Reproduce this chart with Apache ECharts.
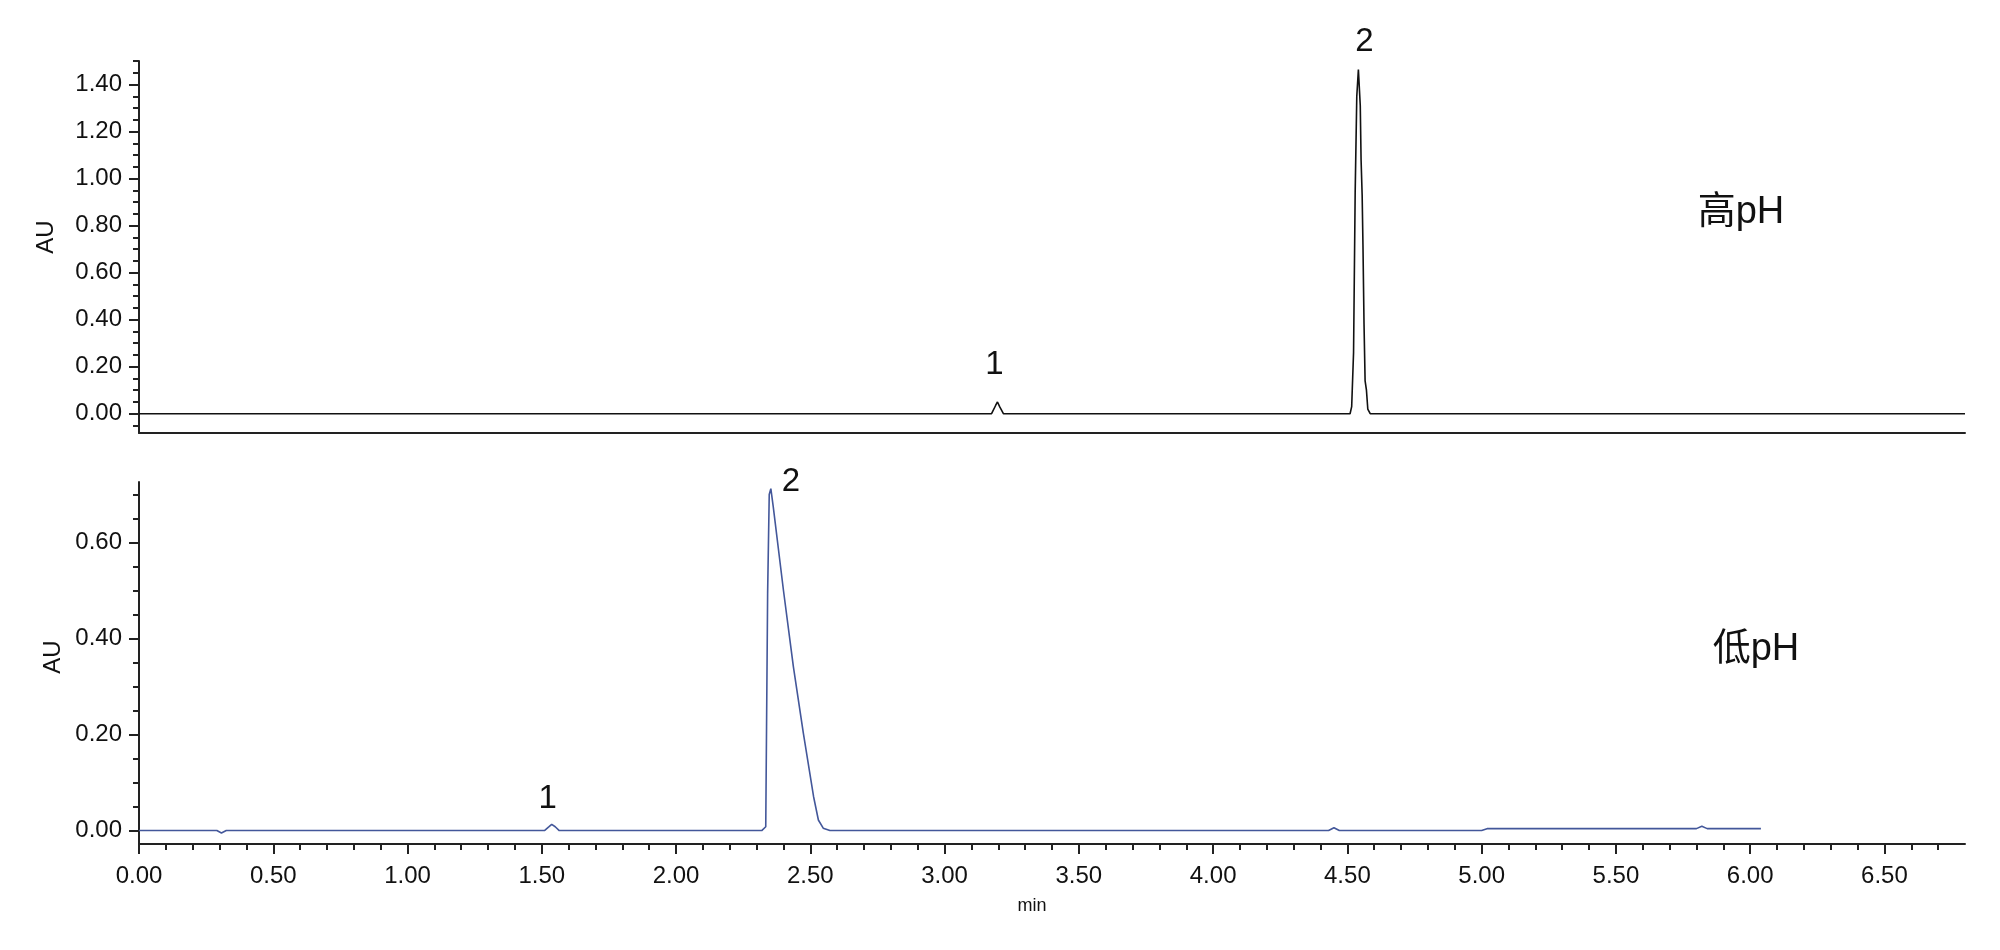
<!DOCTYPE html>
<html><head><meta charset="utf-8">
<script src="https://cdn.jsdelivr.net/npm/echarts@6/dist/echarts.min.js"></script>
<style>html,body{margin:0;padding:0;background:#fff}#c{width:2000px;height:950px}</style>
</head><body><div id="c"></div>
<script>
// ---- data ----
const highTime = [0, 3.175, 3.19, 3.197, 3.205, 3.219, 4.51, 4.516, 4.523, 4.529, 4.535, 4.541, 4.548, 4.551, 4.555, 4.558, 4.562, 4.566, 4.571, 4.576, 4.585, 6.80];
const highAU   = [0, 0,     0.035, 0.05, 0.03,  0,     0,    0.03,  0.26,  0.94,  1.35,  1.464, 1.31,  1.08,  0.93,  0.72,  0.38,  0.14,  0.10,  0.02,  0,     0];
const lowTime = [0, 0.29, 0.307, 0.325, 1.51, 1.527, 1.537, 1.55, 1.565, 2.319, 2.334, 2.337, 2.341, 2.347, 2.353, 2.362, 2.40, 2.437, 2.474, 2.512, 2.53, 2.548, 2.573, 4.43, 4.45, 4.47, 5.0, 5.02, 5.80, 5.82, 5.84, 6.04];
const lowAU   = [0, 0,    -0.005, 0,    0,    0.008, 0.013, 0.008, 0,    0,     0.008, 0.216, 0.494, 0.70,  0.712, 0.674, 0.50, 0.341, 0.203, 0.071, 0.022, 0.005, 0,    0,    0.006, 0,    0,   0.004, 0.004, 0.009, 0.004, 0.004];

const xMajorTicks = [0.0, 0.5, 1.0, 1.5, 2.0, 2.5, 3.0, 3.5, 4.0, 4.5, 5.0, 5.5, 6.0, 6.5];
const xMinorTicks = [0.1, 0.2, 0.3, 0.4, 0.6, 0.7, 0.8, 0.9, 1.1, 1.2, 1.3, 1.4, 1.6, 1.7, 1.8, 1.9, 2.1, 2.2, 2.3, 2.4, 2.6, 2.7, 2.8, 2.9, 3.1, 3.2, 3.3, 3.4, 3.6, 3.7, 3.8, 3.9, 4.1, 4.2, 4.3, 4.4, 4.6, 4.7, 4.8, 4.9, 5.1, 5.2, 5.3, 5.4, 5.6, 5.7, 5.8, 5.9, 6.1, 6.2, 6.3, 6.4, 6.6, 6.7];
const highYMajorTicks = [0.0, 0.2, 0.4, 0.6, 0.8, 1.0, 1.2, 1.4];
const highYMinorTicks = [-0.05, 0.05, 0.10, 0.15, 0.25, 0.30, 0.35, 0.45, 0.50, 0.55, 0.65, 0.70, 0.75, 0.85, 0.90, 0.95, 1.05, 1.10, 1.15, 1.25, 1.30, 1.35, 1.45, 1.50];
const lowYMajorTicks = [0.0, 0.2, 0.4, 0.6];
const lowYMinorTicks = [0.05, 0.10, 0.15, 0.25, 0.30, 0.35, 0.45, 0.50, 0.55, 0.65, 0.70];

const panelLabels = ['高pH', '低pH'];
const yAxisTitle = 'AU';
const xAxisTitle = 'min';
const peakNames = ['1', '2'];
const highPeaks = [[3.197, 0.05], [4.541, 1.464]];
const lowPeaks  = [[1.537, 0.013], [2.353, 0.712]];

// ---- chart ----
const FONT = '"Liberation Sans", Arial, sans-serif';
const CJK = '"Liberation Sans", "Noto Sans CJK SC", sans-serif';
const AX = '#222';
const TXT = '#111';
const zip = (a, b) => a.map((v, i) => [v, b[i]]);

const chart = echarts.init(document.getElementById('c'), null, {renderer: 'canvas'});

function yMajor(grid, min, max, ticks) {
  return {
    gridIndex: grid, type: 'value', position: 'left', min: min, max: max,
    axisLine: {show: true, onZero: false, lineStyle: {color: AX, width: 2}},
    axisTick: {show: true, customValues: ticks, length: 10, lineStyle: {color: AX, width: 2}},
    axisLabel: {show: true, customValues: ticks, formatter: v => v.toFixed(2), fontSize: 24, fontFamily: FONT, color: TXT, margin: 17, padding: [3, 0, 0, 0]},
    splitLine: {show: false}
  };
}
function yMinor(grid, min, max, ticks) {
  return {
    gridIndex: grid, type: 'value', position: 'left', min: min, max: max,
    axisLine: {show: false, onZero: false},
    axisTick: {show: true, customValues: ticks, length: 6, lineStyle: {color: AX, width: 2}},
    axisLabel: {show: false}, splitLine: {show: false}
  };
}

chart.setOption({
  animation: false,
  backgroundColor: '#fff',
  grid: [
    {left: 139, right: 35, top: 61, height: 372},
    {left: 139, right: 35, top: 482, height: 362}
  ],
  xAxis: [
    {gridIndex: 0, type: 'value', position: 'bottom', min: 0, max: 6.8,
     axisLine: {show: true, onZero: false, lineStyle: {color: AX, width: 2}},
     axisTick: {show: false}, axisLabel: {show: false}, splitLine: {show: false}},
    {gridIndex: 1, type: 'value', position: 'bottom', min: 0, max: 6.8,
     axisLine: {show: true, onZero: false, lineStyle: {color: AX, width: 2}},
     axisTick: {show: true, customValues: xMajorTicks, length: 10, lineStyle: {color: AX, width: 2}},
     axisLabel: {show: true, customValues: xMajorTicks, formatter: v => v.toFixed(2), fontSize: 24, fontFamily: FONT, color: TXT, margin: 20},
     splitLine: {show: false},
     name: xAxisTitle, nameLocation: 'middle', nameGap: 53,
     nameTextStyle: {fontSize: 18, fontFamily: FONT, color: TXT, padding: [0, 40, 0, 0]}},
    {gridIndex: 1, type: 'value', position: 'bottom', min: 0, max: 6.8,
     axisLine: {show: false, onZero: false},
     axisTick: {show: true, customValues: xMinorTicks, length: 6, lineStyle: {color: AX, width: 2}},
     axisLabel: {show: false}, splitLine: {show: false}}
  ],
  yAxis: [
    yMajor(0, -0.082, 1.50, highYMajorTicks),
    yMinor(0, -0.082, 1.50, highYMinorTicks),
    yMajor(1, -0.028, 0.726, lowYMajorTicks),
    yMinor(1, -0.028, 0.726, lowYMinorTicks)
  ],
  series: [
    {type: 'line', xAxisIndex: 0, yAxisIndex: 0, data: zip(highTime, highAU), showSymbol: false, symbol: 'none',
     clip: false, lineStyle: {color: '#111', width: 1.6}},
    {type: 'line', xAxisIndex: 1, yAxisIndex: 2, data: zip(lowTime, lowAU), showSymbol: false, symbol: 'none',
     clip: false, lineStyle: {color: '#43579a', width: 1.6}}
  ]
});

// annotations placed through the axes' own scales
const g = [];
const hiOff = [[-3, -37], [6, -28]];
const loOff = [[-4, -25], [20, -7]];
highPeaks.forEach((p, i) => {
  const px = chart.convertToPixel({xAxisIndex: 0, yAxisIndex: 0}, p);
  g.push({type: 'text', x: px[0] + hiOff[i][0], y: px[1] + hiOff[i][1],
    style: {text: peakNames[i], fontSize: 33, fontFamily: FONT, fill: TXT, align: 'center', verticalAlign: 'middle'}});
});
lowPeaks.forEach((p, i) => {
  const px = chart.convertToPixel({xAxisIndex: 1, yAxisIndex: 2}, p);
  g.push({type: 'text', x: px[0] + loOff[i][0], y: px[1] + loOff[i][1],
    style: {text: peakNames[i], fontSize: 33, fontFamily: FONT, fill: TXT, align: 'center', verticalAlign: 'middle'}});
});
g.push({type: 'text', x: 46, y: 237, rotation: Math.PI / 2,
  style: {text: yAxisTitle, fontSize: 24, fontFamily: FONT, fill: TXT, align: 'center', verticalAlign: 'middle'}});
g.push({type: 'text', x: 53, y: 657, rotation: Math.PI / 2,
  style: {text: yAxisTitle, fontSize: 24, fontFamily: FONT, fill: TXT, align: 'center', verticalAlign: 'middle'}});
g.push({type: 'text', x: 1741, y: 213, style: {text: panelLabels[0], fontSize: 38, fontFamily: CJK, fill: TXT, align: 'center', verticalAlign: 'middle'}});
g.push({type: 'text', x: 1756, y: 650, style: {text: panelLabels[1], fontSize: 38, fontFamily: CJK, fill: TXT, align: 'center', verticalAlign: 'middle'}});
chart.setOption({graphic: g});
</script>
</body></html>
